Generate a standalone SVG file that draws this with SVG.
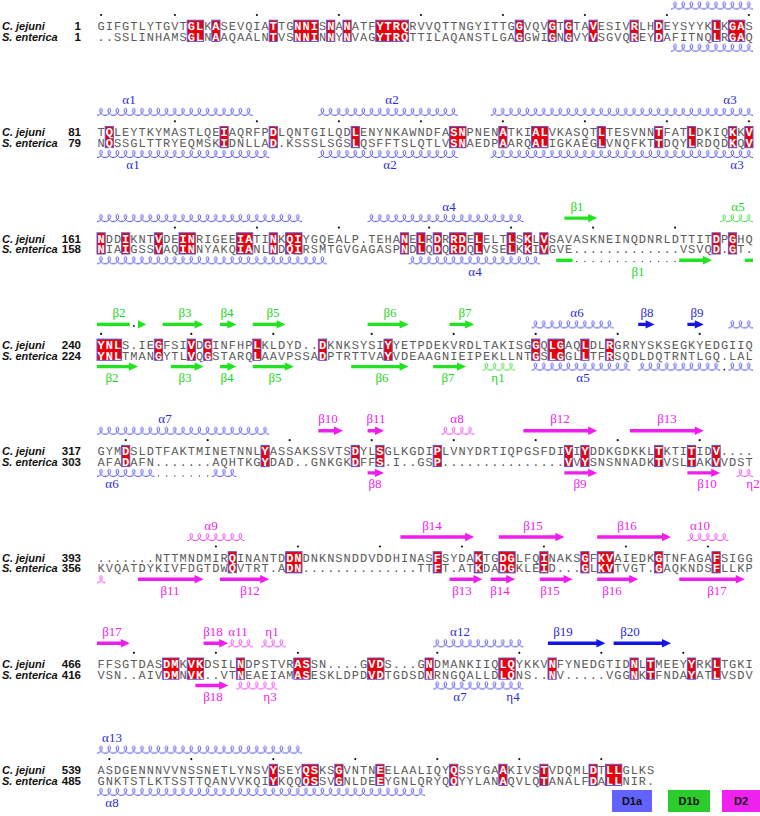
<svg xmlns="http://www.w3.org/2000/svg" width="760" height="816" viewBox="0 0 760 816">
<defs>
<style>
.seq{font-family:"Liberation Mono",monospace;font-size:12px;letter-spacing:1px;fill:#5a5a5a;text-rendering:geometricPrecision}
.w{fill:#fff;font-weight:bold}
.nm{font-family:"Liberation Sans",Arial,sans-serif;font-size:11px;font-weight:bold;font-style:italic;fill:#111}
.num{font-family:"Liberation Sans",Arial,sans-serif;font-size:11.5px;font-weight:bold;fill:#111;text-anchor:end}
.bx{fill:#e8000b;stroke:#5a5ad8;stroke-width:1}
.lb{font-family:"Liberation Serif","Times New Roman",serif;font-size:13px;text-anchor:middle}
.cb{fill:#2a2ad8}.cg{fill:#22d622}.cm{fill:#ee22ee}
.ab{fill:#1414e6}.ag{fill:#1ee41e}.am{fill:#f01cf0}
.dt{fill:#111}
.gd{stroke:#444;stroke-width:1.3;stroke-linecap:round;stroke-dasharray:0 8.2;fill:none}
.lg{font-family:"Liberation Sans",Arial,sans-serif;font-size:11px;font-weight:bold;fill:#111;text-anchor:middle}
</style>
<pattern id="hb" patternUnits="userSpaceOnUse" x="97" y="-5" width="8.2" height="10"><path d="M0,8.5 C2.6,8.5 5.6,6 5.2,3 C5,1 3,1 2.8,3 C2.6,6 5,8.5 8.2,8.5" fill="none" stroke="#3a3ae2" stroke-width="0.9"/></pattern>
<pattern id="hg" patternUnits="userSpaceOnUse" x="97" y="-5" width="8.2" height="10"><path d="M0,8.5 C2.6,8.5 5.6,6 5.2,3 C5,1 3,1 2.8,3 C2.6,6 5,8.5 8.2,8.5" fill="none" stroke="#2ed82e" stroke-width="0.9"/></pattern>
<pattern id="hm" patternUnits="userSpaceOnUse" x="97" y="-5" width="8.2" height="10"><path d="M0,8.5 C2.6,8.5 5.6,6 5.2,3 C5,1 3,1 2.8,3 C2.6,6 5,8.5 8.2,8.5" fill="none" stroke="#ee2aee" stroke-width="0.9"/></pattern>
</defs>
<rect width="760" height="816" fill="#fff"/>

<!-- Block 1 -->
<g id="block1">
<g class="dt"><circle cx="101.1" cy="15" r="1.1"/><circle cx="174.9" cy="15" r="1.1"/><circle cx="256.9" cy="15" r="1.1"/><circle cx="338.9" cy="15" r="1.1"/><circle cx="420.9" cy="15" r="1.1"/><circle cx="502.9" cy="15" r="1.1"/><circle cx="584.9" cy="15" r="1.1"/><circle cx="666.9" cy="15" r="1.1"/><circle cx="748.9" cy="15" r="1.1"/></g>
<rect x="671" y="-5" width="82" height="10" fill="url(#hb)" transform="translate(0,5.5)"/>
<rect x="671" y="-5" width="82" height="10" fill="url(#hb)" transform="translate(0,47.7)"/>
<g class="bx" transform="translate(0,20.2)"><rect x="187.2" width="16.4" height="21.2"/><rect x="211.8" width="8.2" height="21.2"/><rect x="269.2" width="8.2" height="21.2"/><rect x="293.8" width="24.6" height="21.2"/><rect x="326.6" width="8.2" height="21.2"/><rect x="343" width="8.2" height="21.2"/><rect x="375.8" width="32.8" height="21.2"/><rect x="515.2" width="8.2" height="21.2"/><rect x="548" width="8.2" height="21.2"/><rect x="564.4" width="8.2" height="21.2"/><rect x="589" width="8.2" height="21.2"/><rect x="630" width="8.2" height="21.2"/><rect x="654.6" width="8.2" height="21.2"/><rect x="712" width="8.2" height="21.2"/><rect x="728.4" width="16.4" height="21.2"/></g>
<text class="nm" x="2" y="30">C. jejuni</text><text class="num" x="81" y="30">1</text>
<text class="nm" x="2" y="40.7">S. enterica</text><text class="num" x="81" y="40.7">1</text>
<text class="seq" x="97.5" y="30">GIFGTLYTGVT<tspan class="w">GL</tspan>K<tspan class="w">A</tspan>SEVQIA<tspan class="w">T</tspan>TG<tspan class="w">NNI</tspan>S<tspan class="w">N</tspan>A<tspan class="w">N</tspan>ATF<tspan class="w">YTRQ</tspan>RVVQTTNGYITTG<tspan class="w">G</tspan>VQV<tspan class="w">G</tspan>T<tspan class="w">G</tspan>TA<tspan class="w">V</tspan>ESIV<tspan class="w">R</tspan>LH<tspan class="w">D</tspan>EYSYYK<tspan class="w">L</tspan>K<tspan class="w">GA</tspan>S</text>
<text class="seq" x="97.5" y="40.7">..SSLINHAMS<tspan class="w">GL</tspan>N<tspan class="w">A</tspan>AQAALN<tspan class="w">T</tspan>VS<tspan class="w">NNI</tspan>N<tspan class="w">N</tspan>Y<tspan class="w">N</tspan>VAG<tspan class="w">YTRQ</tspan>TTILAQANSTLGA<tspan class="w">G</tspan>GWI<tspan class="w">G</tspan>N<tspan class="w">G</tspan>VY<tspan class="w">V</tspan>SGVQ<tspan class="w">R</tspan>EY<tspan class="w">D</tspan>AFITNQ<tspan class="w">L</tspan>R<tspan class="w">GA</tspan>Q</text>
</g>

<!-- Block 2 -->
<g id="block2">
<g class="dt"><circle cx="174.9" cy="121.3" r="1.1"/><circle cx="256.9" cy="121.3" r="1.1"/><circle cx="338.9" cy="121.3" r="1.1"/><circle cx="420.9" cy="121.3" r="1.1"/><circle cx="502.9" cy="121.3" r="1.1"/><circle cx="584.9" cy="121.3" r="1.1"/><circle cx="666.9" cy="121.3" r="1.1"/><circle cx="748.9" cy="121.3" r="1.1"/></g>
<g transform="translate(0,111.8)"><rect x="97" y="-5" width="155.8" height="10" fill="url(#hb)"/><rect x="318.4" y="-5" width="139.4" height="10" fill="url(#hb)"/><rect x="490.6" y="-5" width="262.4" height="10" fill="url(#hb)"/></g>
<g transform="translate(0,154)"><rect x="97" y="-5" width="172.2" height="10" fill="url(#hb)"/><rect x="318.4" y="-5" width="139.4" height="10" fill="url(#hb)"/><rect x="490.6" y="-5" width="262.4" height="10" fill="url(#hb)"/></g>
<g class="lb cb"><text x="129" y="104.3">α1</text><text x="392" y="104.3">α2</text><text x="730" y="104.3">α3</text><text x="133" y="169.3">α1</text><text x="390" y="169.3">α2</text><text x="737" y="169.3">α3</text></g>
<g class="bx" transform="translate(0,126.5)"><rect x="105.2" width="8.2" height="21.2"/><rect x="220" width="8.2" height="21.2"/><rect x="269.2" width="8.2" height="21.2"/><rect x="351.2" width="8.2" height="21.2"/><rect x="449.6" width="16.4" height="21.2"/><rect x="498.8" width="8.2" height="21.2"/><rect x="531.6" width="16.4" height="21.2"/><rect x="597.2" width="8.2" height="21.2"/><rect x="654.6" width="8.2" height="21.2"/><rect x="687.4" width="8.2" height="21.2"/><rect x="728.4" width="8.2" height="21.2"/><rect x="744.8" width="8.2" height="21.2"/></g>
<text class="nm" x="2" y="136.3">C. jejuni</text><text class="num" x="81" y="136.3">81</text>
<text class="nm" x="2" y="147">S. enterica</text><text class="num" x="81" y="147">79</text>
<text class="seq" x="97.5" y="136.3">T<tspan class="w">Q</tspan>LEYTKYMASTLQE<tspan class="w">I</tspan>AQRFP<tspan class="w">D</tspan>LQNTGILQD<tspan class="w">L</tspan>ENYNKAWNDFA<tspan class="w">SN</tspan>PNEN<tspan class="w">A</tspan>TKI<tspan class="w">AL</tspan>VKASQT<tspan class="w">L</tspan>TESVNN<tspan class="w">T</tspan>FAT<tspan class="w">L</tspan>DKIQ<tspan class="w">K</tspan>K<tspan class="w">V</tspan></text>
<text class="seq" x="97.5" y="147">N<tspan class="w">Q</tspan>SSGLTTRYEQMSK<tspan class="w">I</tspan>DNLLA<tspan class="w">D</tspan>.KSSSLSGS<tspan class="w">L</tspan>QSFFTSLQTLV<tspan class="w">SN</tspan>AEDP<tspan class="w">A</tspan>ARQ<tspan class="w">AL</tspan>IGKAEG<tspan class="w">L</tspan>VNQFKT<tspan class="w">T</tspan>DQY<tspan class="w">L</tspan>RDQD<tspan class="w">K</tspan>Q<tspan class="w">V</tspan></text>
</g>

<!-- Block 3 -->
<g id="block3">
<g class="dt"><circle cx="174.9" cy="227.6" r="1.1"/><circle cx="256.9" cy="227.6" r="1.1"/><circle cx="338.9" cy="227.6" r="1.1"/><circle cx="429.1" cy="227.6" r="1.1"/><circle cx="511.1" cy="227.6" r="1.1"/><circle cx="593.1" cy="227.6" r="1.1"/><circle cx="675.1" cy="227.6" r="1.1"/></g>
<g transform="translate(0,218.1)"><rect x="97" y="-5" width="205" height="10" fill="url(#hb)"/><rect x="367.6" y="-5" width="155.8" height="10" fill="url(#hb)"/><rect x="720.2" y="-5" width="32.8" height="10" fill="url(#hg)"/></g>
<path class="ag" d="M564.4 216.4H588.2V213.9L597.2 218.1L588.2 222.3V219.8H564.4Z"/>
<g transform="translate(0,260.3)"><rect x="97" y="-5" width="229.6" height="10" fill="url(#hb)"/><rect x="408.6" y="-5" width="131.2" height="10" fill="url(#hb)"/></g>
<g class="ag"><rect x="556.2" y="258.6" width="16.4" height="3.4"/><path d="M679.2 258.6H703V256.1L712 260.3L703 264.5V262H679.2Z"/><rect x="744.8" y="258.6" width="8.2" height="3.4"/></g>
<line class="gd" x1="576.7" y1="261.5" x2="675.2" y2="261.5"/>
<g class="lb"><text class="cb" x="449" y="210.6">α4</text><text class="cg" x="577" y="210.6">β1</text><text class="cg" x="738" y="210.6">α5</text><text class="cb" x="475" y="275.6">α4</text><text class="cg" x="638" y="275.6">β1</text></g>
<g class="bx" transform="translate(0,232.8)"><rect x="97" width="8.2" height="21.2"/><rect x="121.6" width="8.2" height="21.2"/><rect x="154.4" width="8.2" height="21.2"/><rect x="179" width="16.4" height="21.2"/><rect x="236.4" width="16.4" height="21.2"/><rect x="269.2" width="8.2" height="21.2"/><rect x="285.6" width="16.4" height="21.2"/><rect x="400.4" width="8.2" height="21.2"/><rect x="416.8" width="8.2" height="21.2"/><rect x="433.2" width="8.2" height="21.2"/><rect x="449.6" width="16.4" height="21.2"/><rect x="474.2" width="8.2" height="21.2"/><rect x="507" width="8.2" height="21.2"/><rect x="523.4" width="8.2" height="21.2"/><rect x="539.8" width="8.2" height="21.2"/><rect x="712" width="8.2" height="21.2"/><rect x="728.4" width="8.2" height="21.2"/></g>
<text class="nm" x="2" y="242.6">C. jejuni</text><text class="num" x="81" y="242.6">161</text>
<text class="nm" x="2" y="253.3">S. enterica</text><text class="num" x="81" y="253.3">158</text>
<text class="seq" x="97.5" y="242.6"><tspan class="w">N</tspan>DD<tspan class="w">I</tspan>KNT<tspan class="w">V</tspan>DE<tspan class="w">IN</tspan>RIGEE<tspan class="w">IA</tspan>TI<tspan class="w">N</tspan>K<tspan class="w">QI</tspan>YGQEALP.TEHA<tspan class="w">N</tspan>E<tspan class="w">L</tspan>R<tspan class="w">D</tspan>R<tspan class="w">RD</tspan>E<tspan class="w">L</tspan>ELT<tspan class="w">L</tspan>S<tspan class="w">K</tspan>L<tspan class="w">V</tspan>SAVASKNEINQDNRLDTTIT<tspan class="w">D</tspan>P<tspan class="w">G</tspan>HQ</text>
<text class="seq" x="97.5" y="253.3"><tspan class="w">N</tspan>IA<tspan class="w">I</tspan>GSS<tspan class="w">V</tspan>AQ<tspan class="w">IN</tspan>NYAKQ<tspan class="w">IA</tspan>NL<tspan class="w">N</tspan>D<tspan class="w">QI</tspan>RSMTGVGAGASP<tspan class="w">N</tspan>D<tspan class="w">L</tspan>Q<tspan class="w">D</tspan>Q<tspan class="w">RD</tspan>Q<tspan class="w">L</tspan>VSE<tspan class="w">L</tspan>K<tspan class="w">K</tspan>I<tspan class="w">V</tspan>GVE.............VSVQ<tspan class="w">D</tspan>.<tspan class="w">G</tspan>T.</text>
</g>

<!-- Block 4 -->
<g id="block4">
<g class="dt"><circle cx="101.1" cy="333.9" r="1.1"/><circle cx="191.3" cy="333.9" r="1.1"/><circle cx="273.3" cy="333.9" r="1.1"/><circle cx="371.7" cy="333.9" r="1.1"/><circle cx="453.7" cy="333.9" r="1.1"/><circle cx="535.7" cy="333.9" r="1.1"/><circle cx="617.7" cy="333.9" r="1.1"/><circle cx="699.7" cy="333.9" r="1.1"/></g>
<g class="ag"><rect x="97" y="322.7" width="32.8" height="3.4"/><path d="M138 320.2L146.2 324.4L138 328.6Z"/>
<path d="M162.6 322.7H194.6V320.2L203.6 324.4L194.6 328.6V326.1H162.6Z"/><path d="M220 322.7H227.4V320.2L236.4 324.4L227.4 328.6V326.1H220Z"/><path d="M252.8 322.7H276.6V320.2L285.6 324.4L276.6 328.6V326.1H252.8Z"/><path d="M367.6 322.7H399.6V320.2L408.6 324.4L399.6 328.6V326.1H367.6Z"/><path d="M449.6 322.7H465.2V320.2L474.2 324.4L465.2 328.6V326.1H449.6Z"/></g>
<circle class="dt" cx="133.9" cy="326" r="0.9"/>
<g class="ab"><path d="M638.2 322.7H645.6V320.2L654.6 324.4L645.6 328.6V326.1H638.2Z"/><path d="M687.4 322.7H694.8V320.2L703.8 324.4L694.8 328.6V326.1H687.4Z"/></g>
<g transform="translate(0,324.4)"><rect x="531.6" y="-5" width="82" height="10" fill="url(#hb)"/><rect x="728.4" y="-5" width="24.6" height="10" fill="url(#hb)"/></g>
<g class="ag"><path d="M97 364.9H129V362.4L138 366.6L129 370.8V368.3H97Z"/><path d="M170.8 364.9H194.6V362.4L203.6 366.6L194.6 370.8V368.3H170.8Z"/><path d="M220 364.9H227.4V362.4L236.4 366.6L227.4 370.8V368.3H220Z"/><path d="M252.8 364.9H284.8V362.4L293.8 366.6L284.8 370.8V368.3H252.8Z"/><path d="M351.2 364.9H399.6V362.4L408.6 366.6L399.6 370.8V368.3H351.2Z"/><path d="M433.2 364.9H457V362.4L466 366.6L457 370.8V368.3H433.2Z"/></g>
<g transform="translate(0,366.6)"><rect x="482.4" y="-5" width="32.8" height="10" fill="url(#hg)"/><rect x="531.6" y="-5" width="98.4" height="10" fill="url(#hb)"/><rect x="638.2" y="-5" width="82" height="10" fill="url(#hb)"/><rect x="728.4" y="-5" width="24.6" height="10" fill="url(#hb)"/></g>
<circle class="dt" cx="724.3" cy="369.6" r="0.9"/>
<g class="lb"><text class="cg" x="119" y="316.9">β2</text><text class="cg" x="185" y="316.9">β3</text><text class="cg" x="227" y="316.9">β4</text><text class="cg" x="273" y="316.9">β5</text><text class="cg" x="390" y="316.9">β6</text><text class="cg" x="465" y="316.9">β7</text><text class="cb" x="577" y="316.9">α6</text><text class="cb" x="647" y="316.9">β8</text><text class="cb" x="697" y="316.9">β9</text>
<text class="cg" x="112" y="381.9">β2</text><text class="cg" x="185" y="381.9">β3</text><text class="cg" x="227" y="381.9">β4</text><text class="cg" x="275" y="381.9">β5</text><text class="cg" x="382" y="381.9">β6</text><text class="cg" x="448" y="381.9">β7</text><text class="cg" x="498" y="381.9">η1</text><text class="cb" x="583" y="381.9">α5</text></g>
<g class="bx" transform="translate(0,339.1)"><rect x="97" width="24.6" height="21.2"/><rect x="154.4" width="8.2" height="21.2"/><rect x="187.2" width="8.2" height="21.2"/><rect x="203.6" width="8.2" height="21.2"/><rect x="252.8" width="8.2" height="21.2"/><rect x="318.4" width="8.2" height="21.2"/><rect x="384" width="8.2" height="21.2"/><rect x="531.6" width="8.2" height="21.2"/><rect x="548" width="16.4" height="21.2"/><rect x="580.8" width="8.2" height="21.2"/><rect x="605.4" width="8.2" height="21.2"/></g>
<text class="nm" x="2" y="348.9">C. jejuni</text><text class="num" x="81" y="348.9">240</text>
<text class="nm" x="2" y="359.6">S. enterica</text><text class="num" x="81" y="359.6">224</text>
<text class="seq" x="97.5" y="348.9"><tspan class="w">YNL</tspan>S.IE<tspan class="w">G</tspan>FSI<tspan class="w">V</tspan>D<tspan class="w">G</tspan>INFHP<tspan class="w">L</tspan>KLDYD..<tspan class="w">D</tspan>KNKSYSI<tspan class="w">Y</tspan>YETPDEKVRDLTAKISG<tspan class="w">G</tspan>Q<tspan class="w">LG</tspan>AQ<tspan class="w">L</tspan>DL<tspan class="w">R</tspan>GRNYSKSEGKYEDGIIQ</text>
<text class="seq" x="97.5" y="359.6"><tspan class="w">YNL</tspan>TMAN<tspan class="w">G</tspan>YTL<tspan class="w">V</tspan>Q<tspan class="w">G</tspan>STARQ<tspan class="w">L</tspan>AAVPSSA<tspan class="w">D</tspan>PTRTTVA<tspan class="w">Y</tspan>VDEAAGNIEIPEKLLNT<tspan class="w">G</tspan>S<tspan class="w">LG</tspan>GL<tspan class="w">L</tspan>TF<tspan class="w">R</tspan>SQDLDQTRNTLGQ.LAL</text>
</g>

<!-- Block 5 -->
<g id="block5">
<g class="dt"><circle cx="125.7" cy="440.2" r="1.1"/><circle cx="207.7" cy="440.2" r="1.1"/><circle cx="289.7" cy="440.2" r="1.1"/><circle cx="371.7" cy="440.2" r="1.1"/><circle cx="453.7" cy="440.2" r="1.1"/><circle cx="535.7" cy="440.2" r="1.1"/><circle cx="617.7" cy="440.2" r="1.1"/><circle cx="699.7" cy="440.2" r="1.1"/></g>
<g transform="translate(0,430.7)"><rect x="97" y="-5" width="172.2" height="10" fill="url(#hb)"/><rect x="441.4" y="-5" width="32.8" height="10" fill="url(#hm)"/></g>
<g class="am"><path d="M318.4 429H334V426.5L343 430.7L334 434.9V432.4H318.4Z"/><path d="M367.6 429H375V426.5L384 430.7L375 434.9V432.4H367.6Z"/><path d="M523.4 429H588.2V426.5L597.2 430.7L588.2 434.9V432.4H523.4Z"/><path d="M630 429H694.8V426.5L703.8 430.7L694.8 434.9V432.4H630Z"/>
<path d="M367.6 471.2H375V468.7L384 472.9L375 477.1V474.6H367.6Z"/><path d="M564.4 471.2H588.2V468.7L597.2 472.9L588.2 477.1V474.6H564.4Z"/><path d="M687.4 471.2H711.2V468.7L720.2 472.9L711.2 477.1V474.6H687.4Z"/></g>
<g transform="translate(0,472.9)"><rect x="97" y="-5" width="57.4" height="10" fill="url(#hb)"/><rect x="211.8" y="-5" width="24.6" height="10" fill="url(#hb)"/><rect x="736.6" y="-5" width="16.4" height="10" fill="url(#hm)"/></g>
<line class="gd" x1="158.5" y1="476" x2="207.8" y2="476"/>
<g class="lb"><text class="cb" x="165" y="423.2">α7</text><text class="cm" x="328" y="423.2">β10</text><text class="cm" x="376" y="423.2">β11</text><text class="cm" x="457" y="423.2">α8</text><text class="cm" x="560" y="423.2">β12</text><text class="cm" x="667" y="423.2">β13</text>
<text class="cb" x="112" y="488.2">α6</text><text class="cm" x="375" y="488.2">β8</text><text class="cm" x="580" y="488.2">β9</text><text class="cm" x="707" y="488.2">β10</text><text class="cm" x="753" y="488.2">η2</text></g>
<g class="bx" transform="translate(0,445.4)"><rect x="121.6" width="8.2" height="21.2"/><rect x="261" width="8.2" height="21.2"/><rect x="351.2" width="8.2" height="21.2"/><rect x="375.8" width="8.2" height="21.2"/><rect x="433.2" width="8.2" height="21.2"/><rect x="564.4" width="8.2" height="21.2"/><rect x="580.8" width="8.2" height="21.2"/><rect x="654.6" width="8.2" height="21.2"/><rect x="687.4" width="8.2" height="21.2"/><rect x="712" width="8.2" height="21.2"/></g>
<text class="nm" x="2" y="455.2">C. jejuni</text><text class="num" x="81" y="455.2">317</text>
<text class="nm" x="2" y="465.9">S. enterica</text><text class="num" x="81" y="465.9">303</text>
<text class="seq" x="97.5" y="455.2">GYM<tspan class="w">D</tspan>SLDTFAKTMINETNNL<tspan class="w">Y</tspan>ASSAKSSVTS<tspan class="w">D</tspan>YL<tspan class="w">S</tspan>GLKGDI<tspan class="w">P</tspan>LVNYDRTIQPGSFDI<tspan class="w">V</tspan>I<tspan class="w">Y</tspan>DDKGDKKL<tspan class="w">T</tspan>KTI<tspan class="w">T</tspan>ID<tspan class="w">V</tspan>....</text>
<text class="seq" x="97.5" y="465.9">AFA<tspan class="w">D</tspan>AFN.......AQHTKG<tspan class="w">Y</tspan>DAD..GNKGK<tspan class="w">D</tspan>FF<tspan class="w">S</tspan>.I..GS<tspan class="w">P</tspan>...............<tspan class="w">V</tspan>V<tspan class="w">Y</tspan>SNSNNADK<tspan class="w">T</tspan>VSL<tspan class="w">T</tspan>AK<tspan class="w">V</tspan>VDST</text>
</g>

<!-- Block 6 -->
<g id="block6">
<g class="dt"><circle cx="215.9" cy="546.5" r="1.1"/><circle cx="297.9" cy="546.5" r="1.1"/><circle cx="379.9" cy="546.5" r="1.1"/><circle cx="461.9" cy="546.5" r="1.1"/><circle cx="543.9" cy="546.5" r="1.1"/><circle cx="625.9" cy="546.5" r="1.1"/><circle cx="707.9" cy="546.5" r="1.1"/></g>
<g transform="translate(0,537)"><rect x="187.2" y="-5" width="57.4" height="10" fill="url(#hm)"/><rect x="687.4" y="-5" width="41" height="10" fill="url(#hm)"/></g>
<g class="am"><path d="M400.4 535.3H465.2V532.8L474.2 537L465.2 541.2V538.7H400.4Z"/><path d="M498.8 535.3H555.4V532.8L564.4 537L555.4 541.2V538.7H498.8Z"/><path d="M597.2 535.3H662V532.8L671 537L662 541.2V538.7H597.2Z"/>
<path d="M138 577.5H194.6V575L203.6 579.2L194.6 583.4V580.9H138Z"/><path d="M220 577.5H260.2V575L269.2 579.2L260.2 583.4V580.9H220Z"/><path d="M449.6 577.5H473.4V575L482.4 579.2L473.4 583.4V580.9H449.6Z"/><path d="M490.6 577.5H506.2V575L515.2 579.2L506.2 583.4V580.9H490.6Z"/><path d="M539.8 577.5H563.6V575L572.6 579.2L563.6 583.4V580.9H539.8Z"/><path d="M597.2 577.5H629.2V575L638.2 579.2L629.2 583.4V580.9H597.2Z"/><path d="M679.2 577.5H735.8V575L744.8 579.2L735.8 583.4V580.9H679.2Z"/></g>
<rect x="97" y="-5" width="8.2" height="10" fill="url(#hm)" transform="translate(0,579.2)"/>
<g class="lb cm"><text x="211" y="529.5">α9</text><text x="432" y="529.5">β14</text><text x="533" y="529.5">β15</text><text x="627" y="529.5">β16</text><text x="700" y="529.5">α10</text>
<text x="170" y="594.5">β11</text><text x="250" y="594.5">β12</text><text x="462" y="594.5">β13</text><text x="500" y="594.5">β14</text><text x="550" y="594.5">β15</text><text x="612" y="594.5">β16</text><text x="717" y="594.5">β17</text></g>
<g class="bx" transform="translate(0,551.7)"><rect x="228.2" width="8.2" height="21.2"/><rect x="285.6" width="16.4" height="21.2"/><rect x="433.2" width="8.2" height="21.2"/><rect x="474.2" width="8.2" height="21.2"/><rect x="498.8" width="16.4" height="21.2"/><rect x="539.8" width="8.2" height="21.2"/><rect x="580.8" width="8.2" height="21.2"/><rect x="597.2" width="16.4" height="21.2"/><rect x="654.6" width="8.2" height="21.2"/><rect x="712" width="8.2" height="21.2"/></g>
<text class="nm" x="2" y="561.5">C. jejuni</text><text class="num" x="81" y="561.5">393</text>
<text class="nm" x="2" y="572.2">S. enterica</text><text class="num" x="81" y="572.2">356</text>
<text class="seq" x="97.5" y="561.5">.......NTTMNDMIR<tspan class="w">Q</tspan>INANTD<tspan class="w">DN</tspan>DNKNSNDDVDDHINAS<tspan class="w">F</tspan>SYDA<tspan class="w">K</tspan>TG<tspan class="w">DG</tspan>LFQ<tspan class="w">I</tspan>NAKS<tspan class="w">G</tspan>F<tspan class="w">KV</tspan>AIEDK<tspan class="w">G</tspan>TNFAGA<tspan class="w">F</tspan>SIGG</text>
<text class="seq" x="97.5" y="572.2">KVQATDYKIVFDGTDW<tspan class="w">Q</tspan>VTRT.A<tspan class="w">DN</tspan>..............TT<tspan class="w">F</tspan>T.AT<tspan class="w">K</tspan>DA<tspan class="w">DG</tspan>KLE<tspan class="w">I</tspan>D...<tspan class="w">G</tspan>L<tspan class="w">KV</tspan>TVGT.<tspan class="w">G</tspan>AQKNDS<tspan class="w">F</tspan>LLKP</text>
</g>

<!-- Block 7 -->
<g id="block7">
<g class="dt"><circle cx="133.9" cy="652.8" r="1.1"/><circle cx="215.9" cy="652.8" r="1.1"/><circle cx="297.9" cy="652.8" r="1.1"/><circle cx="437.3" cy="652.8" r="1.1"/><circle cx="519.3" cy="652.8" r="1.1"/><circle cx="601.3" cy="652.8" r="1.1"/><circle cx="683.3" cy="652.8" r="1.1"/></g>
<g class="am"><path d="M97 641.6H120.8V639.1L129.8 643.3L120.8 647.5V645H97Z"/><path d="M203.6 641.6H219.2V639.1L228.2 643.3L219.2 647.5V645H203.6Z"/><path d="M195.4 683.8H219.2V681.3L228.2 685.5L219.2 689.7V687.2H195.4Z"/></g>
<g class="ab"><path d="M548 641.6H596.4V639.1L605.4 643.3L596.4 647.5V645H548Z"/><path d="M613.6 641.6H662V639.1L671 643.3L662 647.5V645H613.6Z"/></g>
<g transform="translate(0,643.3)"><rect x="228.2" y="-5" width="24.6" height="10" fill="url(#hm)"/><rect x="261" y="-5" width="24.6" height="10" fill="url(#hm)"/><rect x="433.2" y="-5" width="90.2" height="10" fill="url(#hb)"/></g>
<g transform="translate(0,685.5)"><rect x="236.4" y="-5" width="41" height="10" fill="url(#hm)"/><rect x="433.2" y="-5" width="57.4" height="10" fill="url(#hb)"/><rect x="490.6" y="-5" width="32.8" height="10" fill="url(#hb)"/></g>
<g class="lb"><text class="cm" x="112" y="635.8">β17</text><text class="cm" x="213" y="635.8">β18</text><text class="cm" x="238" y="635.8">α11</text><text class="cm" x="272" y="635.8">η1</text><text class="cb" x="460" y="635.8">α12</text><text class="cb" x="563" y="635.8">β19</text><text class="cb" x="630" y="635.8">β20</text>
<text class="cm" x="213" y="700.8">β18</text><text class="cm" x="270" y="700.8">η3</text><text class="cb" x="460" y="700.8">α7</text><text class="cb" x="513" y="700.8">η4</text></g>
<g class="bx" transform="translate(0,658)"><rect x="162.6" width="16.4" height="21.2"/><rect x="187.2" width="16.4" height="21.2"/><rect x="236.4" width="8.2" height="21.2"/><rect x="293.8" width="16.4" height="21.2"/><rect x="367.6" width="16.4" height="21.2"/><rect x="425" width="8.2" height="21.2"/><rect x="498.8" width="16.4" height="21.2"/><rect x="548" width="8.2" height="21.2"/><rect x="630" width="8.2" height="21.2"/><rect x="646.4" width="8.2" height="21.2"/><rect x="687.4" width="8.2" height="21.2"/><rect x="712" width="8.2" height="21.2"/></g>
<text class="nm" x="2" y="667.8">C. jejuni</text><text class="num" x="81" y="667.8">466</text>
<text class="nm" x="2" y="678.5">S. enterica</text><text class="num" x="81" y="678.5">416</text>
<text class="seq" x="97.5" y="667.8">FFSGTDAS<tspan class="w">DM</tspan>K<tspan class="w">VK</tspan>DSIL<tspan class="w">N</tspan>DPSTVR<tspan class="w">AS</tspan>SN....G<tspan class="w">VD</tspan>S...G<tspan class="w">N</tspan>DMANKIIQ<tspan class="w">LQ</tspan>YKKV<tspan class="w">N</tspan>FYNEDGTID<tspan class="w">N</tspan>L<tspan class="w">T</tspan>MEEY<tspan class="w">Y</tspan>RK<tspan class="w">L</tspan>TGKI</text>
<text class="seq" x="97.5" y="678.5">VSN..AIV<tspan class="w">DM</tspan>N<tspan class="w">VK</tspan>..VT<tspan class="w">N</tspan>EAEIAM<tspan class="w">AS</tspan>ESKLDPD<tspan class="w">VD</tspan>TGDSD<tspan class="w">N</tspan>RNGQALLD<tspan class="w">LQ</tspan>NS..<tspan class="w">N</tspan>V.....VGG<tspan class="w">N</tspan>K<tspan class="w">T</tspan>FNDA<tspan class="w">Y</tspan>AT<tspan class="w">L</tspan>VSDV</text>
</g>

<!-- Block 8 -->
<g id="block8">
<g class="dt"><circle cx="109.3" cy="759.1" r="1.1"/><circle cx="191.3" cy="759.1" r="1.1"/><circle cx="273.3" cy="759.1" r="1.1"/><circle cx="355.3" cy="759.1" r="1.1"/><circle cx="437.3" cy="759.1" r="1.1"/><circle cx="519.3" cy="759.1" r="1.1"/><circle cx="601.3" cy="759.1" r="1.1"/></g>
<rect x="97" y="-5" width="205" height="10" fill="url(#hb)" transform="translate(0,749.6)"/>
<rect x="97" y="-5" width="328" height="10" fill="url(#hb)" transform="translate(0,791.8)"/>
<g class="lb cb"><text x="112" y="742.1">α13</text><text x="112" y="807.1">α8</text></g>
<g class="bx" transform="translate(0,764.3)"><rect x="269.2" width="8.2" height="21.2"/><rect x="302" width="16.4" height="21.2"/><rect x="334.8" width="8.2" height="21.2"/><rect x="375.8" width="8.2" height="21.2"/><rect x="449.6" width="8.2" height="21.2"/><rect x="498.8" width="8.2" height="21.2"/><rect x="539.8" width="8.2" height="21.2"/><rect x="589" width="8.2" height="21.2"/><rect x="605.4" width="16.4" height="21.2"/></g>
<text class="nm" x="2" y="774.1">C. jejuni</text><text class="num" x="81" y="774.1">539</text>
<text class="nm" x="2" y="784.8">S. enterica</text><text class="num" x="81" y="784.8">485</text>
<text class="seq" x="97.5" y="774.1">ASDGENNNVVNSSNETLYNSV<tspan class="w">Y</tspan>SEY<tspan class="w">QS</tspan>KS<tspan class="w">G</tspan>VNTN<tspan class="w">E</tspan>ELAALIQY<tspan class="w">Q</tspan>SSYGA<tspan class="w">A</tspan>KIVS<tspan class="w">T</tspan>VDQML<tspan class="w">D</tspan>T<tspan class="w">LL</tspan>GLKS</text>
<text class="seq" x="97.5" y="784.8">GNKTSTLKTSSTTQANVVKQI<tspan class="w">Y</tspan>KQQ<tspan class="w">QS</tspan>SV<tspan class="w">G</tspan>NLDE<tspan class="w">E</tspan>YGNLQRYQ<tspan class="w">Q</tspan>YYLAN<tspan class="w">A</tspan>QVLQ<tspan class="w">T</tspan>ANALF<tspan class="w">D</tspan>A<tspan class="w">LL</tspan>NIR.</text>
</g>

<!-- Legend -->
<g id="legend">
<rect x="612" y="790" width="40" height="22" fill="#6262ff"/><text class="lg" x="632" y="805">D1a</text>
<rect x="668" y="790" width="42" height="22" fill="#2ccc2c"/><text class="lg" x="689" y="805">D1b</text>
<rect x="722" y="790" width="38" height="22" fill="#f022f0"/><text class="lg" x="741" y="805">D2</text>
</g>
</svg>
